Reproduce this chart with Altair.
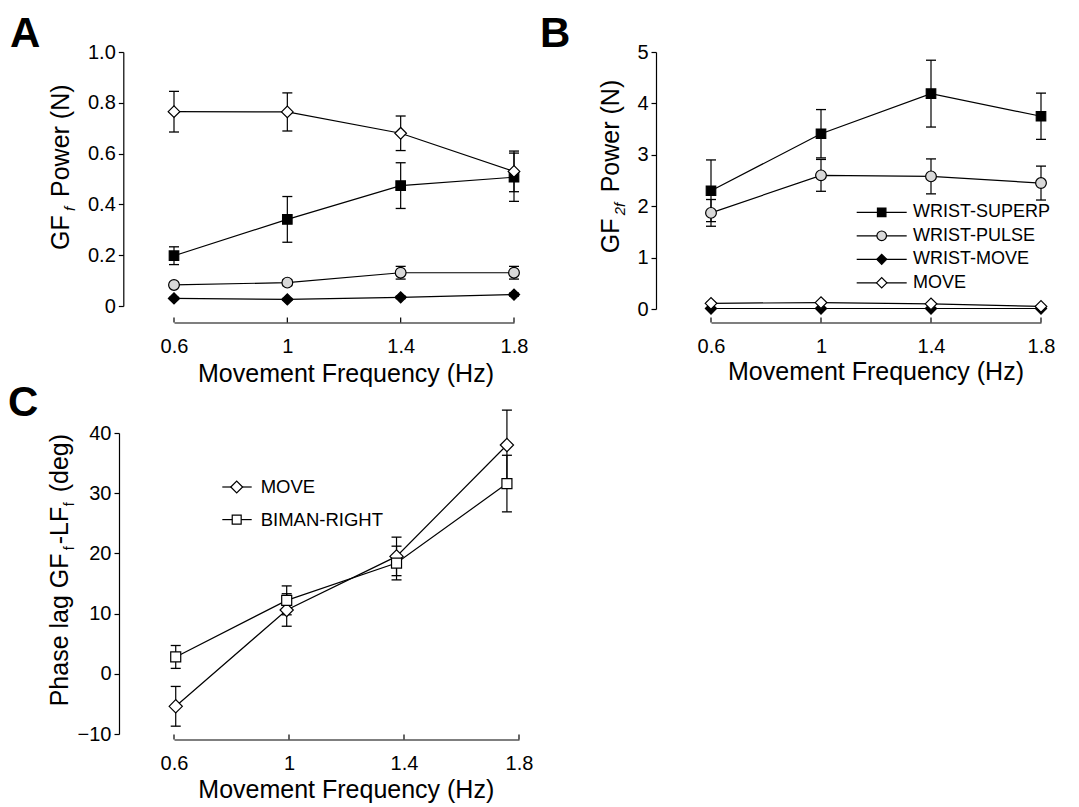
import altair as alt
import pandas as pd

FONT = "Liberation Sans"

# ---------------- data ----------------
freq = [0.6, 1.0, 1.4, 1.8]
freq_ticks = [0.6, 1.0, 1.4, 1.8]
freq_c = [0.606, 0.992, 1.374, 1.758]

series_ab = ["WRIST-SUPERP", "WRIST-PULSE", "WRIST-MOVE", "MOVE"]

a_superp = [0.198, 0.341, 0.474, 0.507]
a_superp_err = [0.035, 0.090, 0.090, 0.095]
a_pulse = [0.083, 0.092, 0.131, 0.131]
a_pulse_err = [0.010, 0.012, 0.025, 0.025]
a_wmove = [0.030, 0.026, 0.034, 0.045]
a_wmove_err = [0.004, 0.004, 0.005, 0.006]
a_move = [0.765, 0.764, 0.680, 0.530]
a_move_err = [0.080, 0.075, 0.068, 0.080]

b_superp = [2.30, 3.41, 4.19, 3.75]
b_superp_err = [0.60, 0.47, 0.65, 0.45]
b_pulse = [1.87, 2.60, 2.58, 2.45]
b_pulse_err = [0.26, 0.31, 0.34, 0.33]
b_wmove = [0.01, 0.01, 0.01, 0.01]
b_wmove_err = [0.005, 0.005, 0.005, 0.005]
b_move = [0.11, 0.125, 0.10, 0.05]
b_move_err = [0.02, 0.02, 0.02, 0.01]

series_c = ["MOVE", "BIMAN-RIGHT"]
c_move = [-5.4, 10.6, 19.5, 38.0]
c_move_err = [3.3, 2.7, 3.2, 5.8]
c_biman = [2.8, 12.2, 18.4, 31.6]
c_biman_err = [1.9, 2.4, 2.8, 4.7]

a_yticks = [0, 0.2, 0.4, 0.6, 0.8, 1.0]
b_yticks = [0, 1, 2, 3, 4, 5]
c_yticks = [-10, 0, 10, 20, 30, 40]

# ---------------- styles ----------------
style_ab = {
    "WRIST-SUPERP": ("square", "black", 90),
    "WRIST-PULSE": ("circle", "#d9d9d9", 115),
    "WRIST-MOVE": ("diamond", "black", 125),
    "MOVE": ("diamond", "white", 135),
}
style_c = {
    "MOVE": ("diamond", "white", 175),
    "BIMAN-RIGHT": ("square", "white", 100),
}


def make_df(xs, d):
    rows = []
    for name, (means, errs) in d.items():
        for x, m, e in zip(xs, means, errs):
            rows.append({"freq": x, "series": name, "mean": m,
                         "lo": m - e, "hi": m + e})
    return pd.DataFrame(rows)


df_a = make_df(freq, {"WRIST-SUPERP": (a_superp, a_superp_err),
                      "WRIST-PULSE": (a_pulse, a_pulse_err),
                      "WRIST-MOVE": (a_wmove, a_wmove_err),
                      "MOVE": (a_move, a_move_err)})
df_b = make_df(freq, {"WRIST-SUPERP": (b_superp, b_superp_err),
                      "WRIST-PULSE": (b_pulse, b_pulse_err),
                      "WRIST-MOVE": (b_wmove, b_wmove_err),
                      "MOVE": (b_move, b_move_err)})
df_c = make_df(freq_c, {"MOVE": (c_move, c_move_err),
                        "BIMAN-RIGHT": (c_biman, c_biman_err)})

X_EXPR = "datum.value == 1 ? '1' : format(datum.value, '.1f')"


def txt(s, x, y, size, **kw):
    return alt.Chart(pd.DataFrame({"s": [s]})).mark_text(
        font=FONT, fontSize=size, color="black", **kw
    ).encode(text="s:N", x=alt.value(x), y=alt.value(y))


def panel(df, order, styles, W, H, ydom, yticks, yexpr, yoff, xoff,
          letter, letter_xy, ytitle_parts, ytitle_xy, xtitle_xy,
          legend=None):
    xaxis = alt.Axis(values=freq_ticks, title=None, grid=False, offset=xoff,
                     domainColor="black", domainWidth=1.2, ticks=False,
                     tickSize=0, labelFont=FONT, labelFontSize=20,
                     labelColor="black", labelPadding=30,
                     labelBaseline="alphabetic", labelFlush=False,
                     labelExpr=X_EXPR)
    yaxis = alt.Axis(values=yticks, title=None, grid=False, offset=yoff,
                     domainColor="black", domainWidth=1.2, tickColor="black",
                     tickWidth=1.2, tickSize=5, labelFont=FONT,
                     labelFontSize=20, labelColor="black", labelPadding=3,
                     labelFlush=False, labelExpr=yexpr)
    xs = alt.Scale(domain=[0.6, 1.8])
    ys = alt.Scale(domain=ydom)

    def X(f="freq:Q"):
        return alt.X(f, scale=xs, axis=xaxis)

    def Y(f):
        return alt.Y(f, scale=ys, axis=yaxis)

    base = alt.Chart(df)
    layers = []
    layers.append(base.mark_line(color="black", strokeWidth=1.2).encode(
        x=X(), y=Y("mean:Q"), detail="series:N"))
    layers.append(base.mark_rule(color="black", strokeWidth=1.2).encode(
        x=X(), y=Y("lo:Q"), y2="hi:Q"))
    for f in ["lo:Q", "hi:Q"]:
        layers.append(base.mark_tick(orient="horizontal", size=10,
                                     thickness=1.3, color="black",
                                     opacity=1).encode(x=X(), y=Y(f)))
    for name in order:
        shape, fill, size = styles[name]
        layers.append(alt.Chart(df[df["series"] == name]).mark_point(
            shape=shape, size=size, fill=fill, stroke="black",
            strokeWidth=1.2, opacity=1, fillOpacity=1, filled=True
        ).encode(x=X(), y=Y("mean:Q")))
    # inward x ticks
    layers.append(alt.Chart(pd.DataFrame({"t": freq_ticks})).mark_rule(
        color="black", strokeWidth=1.2).encode(
        x=X("t:Q"), y=alt.value(H + xoff), y2=alt.value(H + xoff - 5)))
    # panel letter
    layers.append(txt(letter, letter_xy[0], letter_xy[1], 42,
                      fontWeight="bold", align="left",
                      baseline="alphabetic"))
    # y title (rotated, with subscripts)
    for s, size, dx, dy, style in ytitle_parts:
        kw = dict(angle=270, align="left", baseline="alphabetic", dx=dx,
                  dy=dy)
        if style:
            kw["fontStyle"] = style
        layers.append(txt(s, ytitle_xy[0], ytitle_xy[1], size, **kw))
    # x title
    layers.append(txt("Movement Frequency (Hz)", xtitle_xy[0], xtitle_xy[1],
                      25, align="center", baseline="alphabetic"))
    # legend
    if legend:
        lx0, lx1, mx, tx, ys0, dys, fsz = legend
        for i, name in enumerate(order):
            shape, fill, size = styles[name]
            yy = ys0 + i * dys
            one = pd.DataFrame({"s": [name]})
            layers.append(alt.Chart(one).mark_rule(
                color="black", strokeWidth=1.2).encode(
                x=alt.value(lx0), x2=alt.value(lx1), y=alt.value(yy)))
            layers.append(alt.Chart(one).mark_point(
                shape=shape, size=size * 0.8, fill=fill, stroke="black",
                strokeWidth=1.2, opacity=1, fillOpacity=1, filled=True
            ).encode(x=alt.value(mx), y=alt.value(yy)))
            layers.append(txt(name, tx, yy, fsz, align="left",
                              baseline="middle"))
    return alt.layer(*layers).properties(width=W, height=H)


panel_a = panel(
    df_a, series_ab, style_ab, 340, 254, [0, 1], a_yticks,
    "datum.value == 0 ? '0' : format(datum.value, '.1f')", 50.7, 16.5,
    "A", (-164, -5),
    [("GF", 25, 0, 0, None), ("f", 15, 39, 6, "italic"),
     ("Power (N)", 25, 53, 0, None)],
    (-105.5, 198), (172, 329.7))

panel_b = panel(
    df_b, series_ab, style_ab, 330, 257, [0, 5], b_yticks,
    "format(datum.value, 'd')", 55, 13.5,
    "B", (-171, -5),
    [("GF", 25, 0, 0, None), ("2f", 15, 38, 6, "italic"),
     ("Power (N)", 25, 61, 0, None)],
    (-92, 201.3), (165, 328),
    legend=(145.7, 195.7, 170.7, 202, 160.3, 23.5, 18))

panel_c = panel(
    df_c, series_c, style_c, 345, 301, [-10, 40], c_yticks,
    "format(datum.value, 'd')", 55, 5.5,
    "C", (-166, -16.7),
    [("Phase lag GF", 25, 0, 0, None), ("f", 14, 156, 6, None),
     ("-LF", 25, 162, 0, None), ("f", 14, 200, 6, None),
     ("(deg)", 25, 214, 0, None)],
    (-105.7, 273.3), (172.3, 365.3),
    legend=(48.3, 77.7, 62.7, 86.7, 54, 32.6, 18.5))

chart = alt.concat(
    panel_a, panel_b, panel_c, columns=2, bounds="flush",
    spacing={"row": 124, "column": 192}
).resolve_scale(x="independent", y="independent").properties(
    padding={"top": 5, "left": 0, "right": 0, "bottom": 0},
    background="white"
).configure_view(stroke=None)

chart.save("out.html", embed_options={"renderer": "svg", "actions": False})
